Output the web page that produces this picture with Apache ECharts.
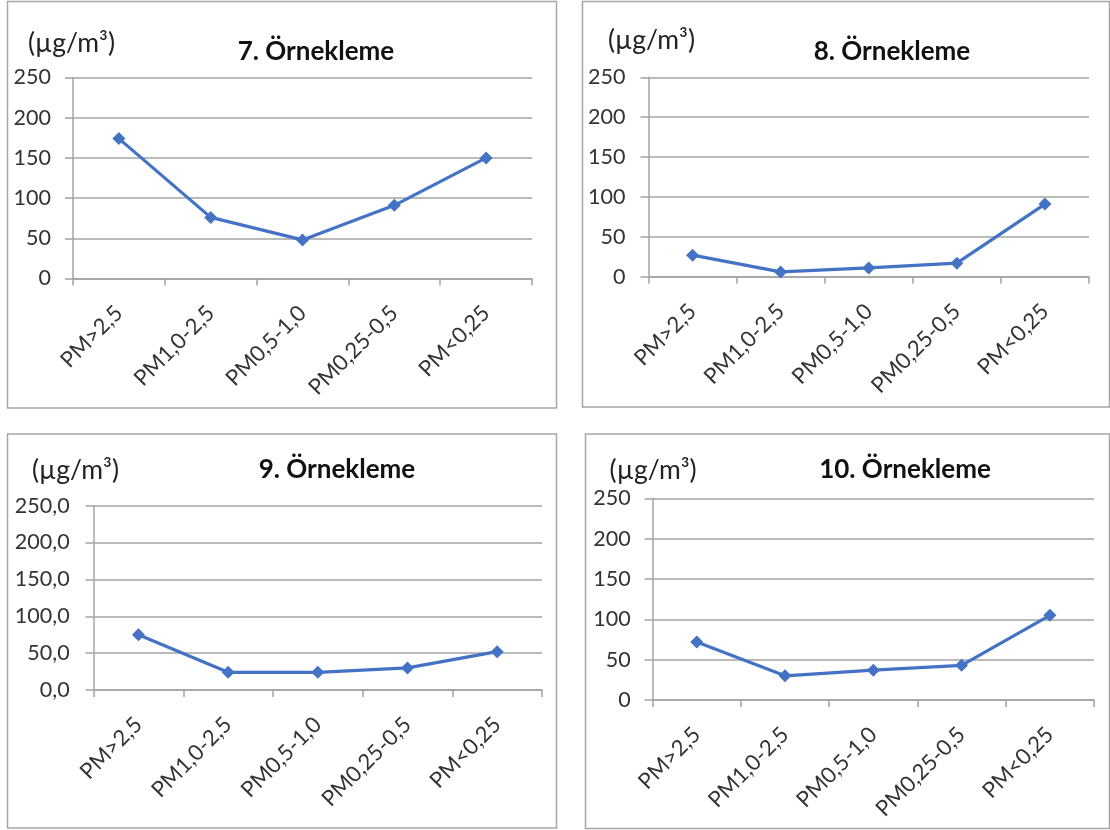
<!DOCTYPE html>
<html>
<head>
<meta charset="utf-8">
<script src="https://cdn.jsdelivr.net/npm/echarts@6/dist/echarts.min.js"></script>
<style>
  html, body { margin: 0; padding: 0; background: #ffffff; }
  #chart { width: 1110px; height: 830px; }
</style>
</head>
<body>
<div id="chart"></div>
<script>
// Particle size fractions on the category axis
const categories = ['PM>2,5', 'PM1,0-2,5', 'PM0,5-1,0', 'PM0,25-0,5', 'PM<0,25'];

// Concentrations (µg/m³) for each sampling campaign
const sampling7 = [174, 76, 48, 91, 150];
const sampling8 = [27, 6, 11, 17, 91];
const sampling9 = [75, 24, 24, 30, 52];
const sampling10 = [72, 30, 37, 43, 105];

// Value-axis tick labels
const yTicksPlain = ['0', '50', '100', '150', '200', '250'];
const yTicksDecimal = ['0,0', '50,0', '100,0', '150,0', '200,0', '250,0'];

// Panel titles and unit label
const titles = ['7. Örnekleme', '8. Örnekleme', '9. Örnekleme', '10. Örnekleme'];
const unitLabel = '(µg/m³)';

const FONT = 'Lato, "Open Sans", sans-serif';
const GRID_GRAY = '#a3a3a3';
const LINE_BLUE = '#4472C4';

// Layout of the four panels
const panels = [
  { data: sampling7,  ticks: yTicksPlain,   grid: { left: 73,    top: 77.5,  width: 459,   height: 201 },
    box: [7.5, 1.5, 549, 406.5],   title: [316, 52],  unit: [28, 43],    labelMargin: 22 },
  { data: sampling8,  ticks: yTicksPlain,   grid: { left: 648.5, top: 77.3,  width: 440.5, height: 199.4 },
    box: [582.5, 1.5, 527, 405.5], title: [892, 52],  unit: [608, 40],   labelMargin: 23 },
  { data: sampling9,  ticks: yTicksDecimal, grid: { left: 93.6,  top: 505.7, width: 448.4, height: 184.3 },
    box: [7.5, 434, 549, 394],     title: [337, 470], unit: [32, 470],   labelMargin: 24 },
  { data: sampling10, ticks: yTicksPlain,   grid: { left: 652.6, top: 498.3, width: 441.4, height: 201.7 },
    box: [585.5, 434, 524, 394.5], title: [905, 470], unit: [609.6, 470], labelMargin: 22 }
];

const chart = echarts.init(document.getElementById('chart'), null, { renderer: 'canvas' });

const grids = [], xAxes = [], yAxes = [], series = [], graphics = [];

panels.forEach((p, i) => {
  grids.push(Object.assign({ containLabel: false }, p.grid));

  xAxes.push({
    type: 'category',
    gridIndex: i,
    data: categories,
    boundaryGap: true,
    axisLine: { show: true, lineStyle: { color: GRID_GRAY, width: 1.5 } },
    axisTick: { show: true, length: 7, lineStyle: { color: GRID_GRAY, width: 1.5 } },
    axisLabel: {
      rotate: 45,
      margin: 31,
      interval: 0,
      color: '#333333',
      fontFamily: FONT,
      fontSize: 22
    },
    splitLine: { show: false }
  });

  const ticks = p.ticks;
  yAxes.push({
    type: 'value',
    gridIndex: i,
    min: 0,
    max: 250,
    interval: 50,
    axisLine: { show: true, lineStyle: { color: GRID_GRAY, width: 1.5 } },
    axisTick: { show: true, length: 8, lineStyle: { color: GRID_GRAY, width: 1.5 } },
    axisLabel: {
      margin: p.labelMargin,
      color: '#333333',
      fontFamily: FONT,
      fontSize: 21.5,
      formatter: v => ticks[Math.round(v / 50)]
    },
    splitLine: { show: true, lineStyle: { color: GRID_GRAY, width: 1.5 } }
  });

  series.push({
    type: 'line',
    xAxisIndex: i,
    yAxisIndex: i,
    data: p.data,
    symbol: 'diamond',
    symbolSize: 13,
    showSymbol: true,
    itemStyle: { color: LINE_BLUE },
    lineStyle: { color: LINE_BLUE, width: 3.2 },
    animation: false,
    z: 3
  });

  // panel frame
  graphics.push({
    type: 'rect',
    shape: { x: p.box[0], y: p.box[1], width: p.box[2], height: p.box[3] },
    style: { fill: 'none', stroke: '#a6a6a6', lineWidth: 1.5 },
    silent: true
  });

  // panel heading
  graphics.push({
    type: 'text',
    x: p.title[0],
    y: p.title[1],
    style: {
      text: titles[i],
      fill: '#111111',
      font: 'bold 26px ' + FONT,
      textAlign: 'center',
      textVerticalAlign: 'middle'
    },
    silent: true
  });

  // unit label above the value axis
  graphics.push({
    type: 'text',
    x: p.unit[0],
    y: p.unit[1],
    style: {
      text: unitLabel,
      fill: '#222222',
      font: '26.5px ' + FONT,
      textAlign: 'left',
      textVerticalAlign: 'middle'
    },
    silent: true
  });
});

chart.setOption({
  animation: false,
  backgroundColor: '#ffffff',
  grid: grids,
  xAxis: xAxes,
  yAxis: yAxes,
  series: series,
  graphic: graphics
});
</script>
</body>
</html>
